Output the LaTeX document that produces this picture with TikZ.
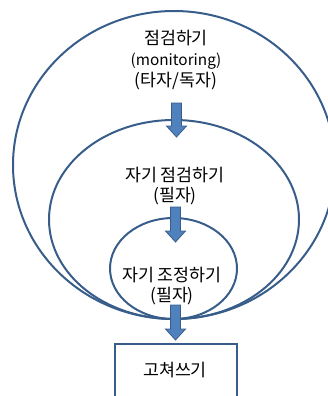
\documentclass[tikz,border=0pt]{standalone}
\usepackage{fontspec}
\setmainfont{Noto Sans CJK KR}
\definecolor{ringblue}{RGB}{56,93,138}
\definecolor{arrowblue}{RGB}{79,129,189}
\newcommand\blockarrow[3]{%
  \filldraw[arrowbox] ({#1-5},#2) -- ({#1+5},#2) -- ({#1+5},{#3-11}) -- ({#1+10},{#3-11})
    -- (#1,#3) -- ({#1-10},{#3-11}) -- ({#1-5},{#3-11}) -- cycle;}
\begin{document}
\begin{tikzpicture}[x=0.75pt,y=-0.75pt,
  ring/.style={draw=ringblue,line width=1.5pt},
  arrowbox/.style={fill=arrowblue,draw=ringblue,line width=0.6pt},
  label/.style={align=center,font=\fontsize{13}{15.5}\selectfont,inner sep=0pt},
  fixbox/.style={draw=ringblue,line width=1.5pt,minimum width=91.5pt,minimum height=40.5pt}]
\useasboundingbox (0,0) rectangle (328,396);
\clip (0,0) rectangle (328,396);
\draw[ring] (174,165) ellipse [x radius=161, y radius=154];
\draw[ring] (174,219.5) ellipse [x radius=125, y radius=99.5];
\draw[ring] (173.5,268.5) ellipse [x radius=63.5, y radius=50.5];
\node[label] (mon) at (176,60) {점검하기\\{\fontsize{11.5}{15.5}\selectfont (monitoring)}\\(타자/독자)};
\node[label] (self) at (175,186) {자기 점검하기\\(필자)};
\node[label] (adj) at (172,286) {자기 조정하기\\(필자)};
\node[fixbox,anchor=north] (fix) at (176,343) {};
\node[label] (fixtext) at (175,370) {고쳐쓰기};
\blockarrow{176.5}{103}{137}
\blockarrow{175.5}{207}{242}
\blockarrow{175.5}{305}{340}
\end{tikzpicture}
\end{document}
